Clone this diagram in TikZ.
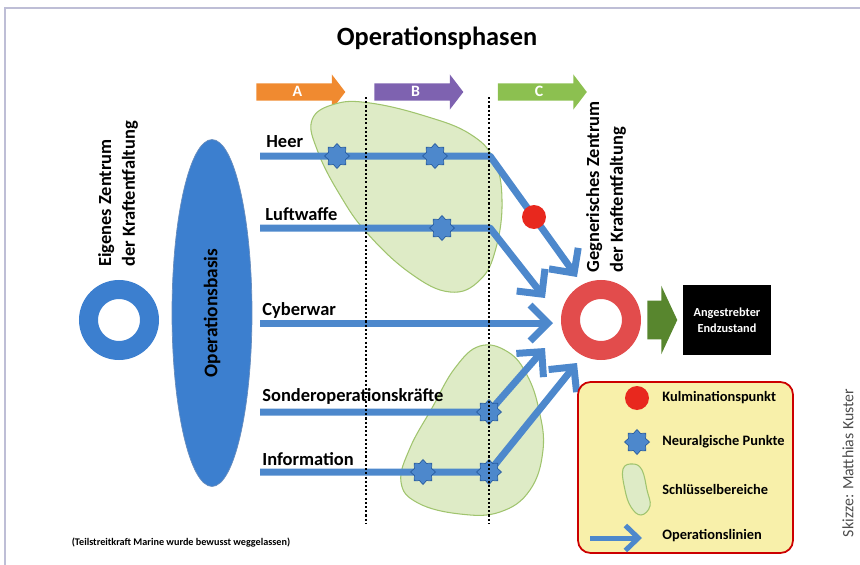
\documentclass[tikz,border=0pt]{standalone}
\usepackage{fontspec}
\setmainfont{Carlito}
\usetikzlibrary{shapes.geometric, shapes.arrows, arrows.meta, positioning}
\definecolor{oplinie}{RGB}{77,136,204}
\definecolor{sterndunkel}{RGB}{40,92,160}
\definecolor{basisblau}{RGB}{60,127,207}
\definecolor{ringrot}{RGB}{226,76,76}
\definecolor{kulmrot}{RGB}{232,40,30}
\definecolor{blobgruen}{RGB}{222,235,198}
\definecolor{blobrand}{RGB}{160,196,110}
\definecolor{phaseA}{RGB}{240,138,48}
\definecolor{phaseB}{RGB}{126,98,176}
\definecolor{phaseC}{RGB}{140,192,80}
\definecolor{zielgruen}{RGB}{88,134,46}
\definecolor{legendgelb}{RGB}{248,240,170}
\definecolor{rahmen}{RGB}{190,190,214}

\begin{document}
\begin{tikzpicture}[x=0.02cm, y=-0.02cm,
  opline/.style={draw=oplinie, line width=0.14cm, line join=round, -{Straight Barb[length=0.36cm,width=0.72cm]}},
  stern/.style={star, star points=8, star point ratio=1.35, minimum size=0.5cm, inner sep=0pt, fill=oplinie, draw=sterndunkel, thin},
  kulm/.style={circle, minimum size=0.48cm, inner sep=0pt, fill=kulmrot},
  blob/.style={fill=blobgruen, draw=blobrand, line width=0.6pt},
  ring/.style={circle, line width=0.38cm, minimum size=1.22cm, inner sep=0pt},
  phase/.style={single arrow, single arrow tip angle=105, single arrow head extend=0.18cm, minimum height=1.78cm, inner xsep=0pt, inner ysep=2pt, text height=5.5pt, text depth=0pt, text=white, font=\fontsize{9}{9}\selectfont\bfseries},
  lbl/.style={anchor=west, inner sep=0pt, font=\fontsize{10.5}{12}\selectfont\bfseries},
  zentrum/.style={rotate=90, anchor=west, align=left, inner sep=0pt, font=\fontsize{10.5}{13.5}\selectfont\bfseries},
  legtext/.style={anchor=west, inner sep=0pt, font=\fontsize{8.2}{10}\selectfont\bfseries},
  punktlinie/.style={line width=0.9pt, dash pattern=on 1.2pt off 1.2pt}]
\useasboundingbox (0,0) rectangle (860,565);
\draw[rahmen, line width=1.2pt] (5,565) -- (5,8) -- (860,8);

\node[font=\fontsize{15}{18}\selectfont\bfseries] at (437,38) (titel) {Operationsphasen};
\node[phase, fill=phaseA] at (297.5,92) (phaseA) {A};
\node[phase, fill=phaseB] at (415.5,92) (phaseB) {B};
\node[phase, fill=phaseC] at (539,92) (phaseC) {C};

% Schluesselbereiche
\draw[blob] plot[smooth cycle, tension=0.7] coordinates {(312,120) (335,104) (370,103) (425,116) (470,134) (494,160) (502,200) (496,248) (480,280) (450,292) (410,273) (367,233) (340,195) (318,152)};
\draw[blob] plot[smooth cycle, tension=0.7] coordinates {(480,346) (508,352) (527,375) (539,410) (543,450) (530,490) (500,512) (460,514) (418,503) (401,482) (410,448) (432,408) (455,368)};

% eigene Seite
\node[ring, draw=basisblau] at (119,320) (eigenring) {};
\node[zentrum] at (118,267) (eigen) {Eigenes Zentrum\\der Kraftentfaltung};
\node[ellipse, rotate=90, fill=basisblau, draw=sterndunkel!70, minimum width=6.94cm, minimum height=1.6cm, font=\fontsize{11}{13}\selectfont\bfseries] at (212,313) (basis) {Operationsbasis};

% Operationslinien
\coordinate (heer0) at (260,156);   \coordinate (heerknick) at (490,156);  \coordinate (heerziel) at (577,277);
\coordinate (luft0) at (260,228);   \coordinate (luftknick) at (490,228);  \coordinate (luftziel) at (545,298);
\coordinate (cyber0) at (260,323);  \coordinate (cyberziel) at (553,323);
\coordinate (sonder0) at (260,412); \coordinate (sonderknick) at (489,412); \coordinate (sonderziel) at (545,348);
\coordinate (info0) at (260,472);   \coordinate (infoknick) at (489,472);  \coordinate (infoziel) at (577,363);
\draw[opline] (heer0) -- (heerknick) -- (heerziel);
\draw[opline] (luft0) -- (luftknick) -- (luftziel);
\draw[opline] (cyber0) -- (cyberziel);
\draw[opline] (sonder0) -- (sonderknick) -- (sonderziel);
\draw[opline] (info0) -- (infoknick) -- (infoziel);

\node[lbl] at (266,142) (heer) {Heer};
\node[lbl] at (265,214) (luft) {Luftwaffe};
\node[lbl] at (262,310) (cyber) {Cyberwar};
\node[lbl] at (262,396) (sonder) {Sonderoperationskräfte};
\node[lbl] at (262,459) (info) {Information};

\node[stern] at (337,156) (s1) {};
\node[stern] at (435,156) (s2) {};
\node[stern] at (442,228) (s3) {};
\node[stern] at (489,412) (s4) {};
\node[stern] at (423,472) (s5) {};
\node[stern] at (489,472) (s6) {};
\node[kulm] at (534,217) (k1) {};

\draw[punktlinie] (366,97) -- (366,523);
\draw[punktlinie] (489,97) -- (489,523);

% gegnerische Seite
\node[ring, draw=ringrot] at (601,320) (feindring) {};
\node[zentrum] at (606,273) (feind) {Gegnerisches Zentrum\\der Kraftentfaltung};
\node[fill=black, text=white, align=center, minimum width=1.76cm, minimum height=1.4cm, font=\fontsize{7}{9}\selectfont\bfseries] at (727,320) (ziel) {Angestrebter\\Endzustand};
\node[single arrow, fill=zielgruen, single arrow tip angle=130, single arrow head extend=0.3cm, minimum height=0.6cm, inner xsep=0pt, inner ysep=0.38cm, text height=0pt, text depth=0pt, left=0.1cm of ziel] (zielpfeil) {};

% Legende
\node[rectangle, rounded corners=0.25cm, fill=legendgelb, draw=red!80!black, line width=1pt, minimum width=4.3cm, minimum height=3.42cm] at (685.5,467.5) (legende) {};
\node[kulm] at (637,398) (lk) {};
\node[legtext] at (662,398) {Kulminationspunkt};
\node[stern] at (637,442) (ls) {};
\node[legtext] at (662,442) {Neuralgische Punkte};
\draw[blob] plot[smooth cycle, tension=0.7] coordinates {(623,469) (633,464) (642,470) (647,490) (650,506) (641,515) (631,507) (625,490)};
\node[legtext] at (662,489) {Schlüsselbereiche};
\coordinate (la0) at (590,538); \coordinate (la1) at (642,538);
\draw[draw=oplinie, line width=0.1cm, -{Straight Barb[length=0.26cm,width=0.5cm]}] (la0) -- (la1);
\node[legtext] at (662,536) {Operationslinien};

\node[font=\fontsize{5.8}{7}\selectfont\bfseries] at (181,543) (fussnote) {(Teilstreitkraft Marine wurde bewusst weggelassen)};
\node[rotate=90, text=black!70, font=\fontsize{9}{11}\selectfont] at (848,463) (skizze) {Skizze: Matthias Kuster};
\end{tikzpicture}
\end{document}
